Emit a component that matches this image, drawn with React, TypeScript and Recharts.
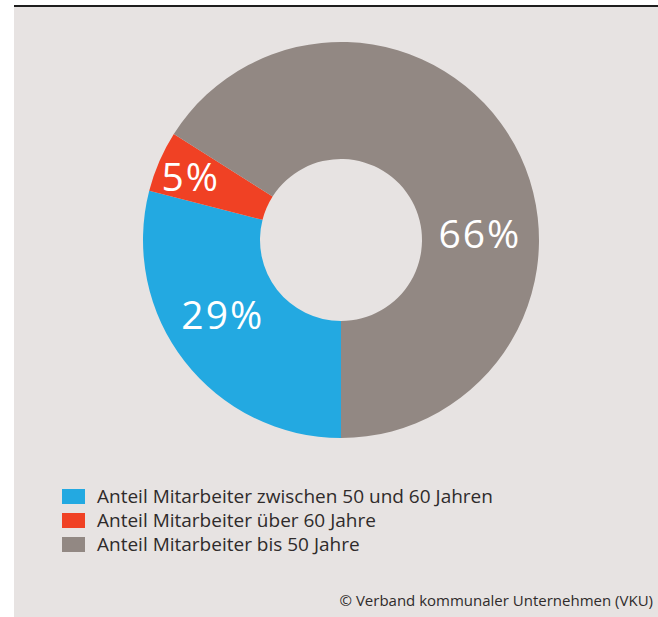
import { Legend, Pie, PieChart } from "recharts"

/******************************************************************************
                              Data
******************************************************************************/

const CATEGORIES = [
  "Anteil Mitarbeiter zwischen 50 und 60 Jahren",
  "Anteil Mitarbeiter über 60 Jahre",
  "Anteil Mitarbeiter bis 50 Jahre",
]
const SHARES = [29, 5, 66]
const COLORS = ["#23a9e1", "#f04124", "#928883"]

// label placement per slice: angle (deg, ccw from 3 o'clock) and radius
const LABEL_ANGLE = [212.4, 157.2, 2.5]
const LABEL_RADIUS = [140, 163, 139]

const SOURCE = "© Verband kommunaler Unternehmen (VKU)"

const FONT = "'Open Sans', 'Noto Sans', sans-serif"
const BG = "#e7e3e2"

/******************************************************************************
                              Components
******************************************************************************/

const RAD = Math.PI / 180

function renderLabel(props: any) {
  const { cx, cy, index, value } = props
  const a = LABEL_ANGLE[index] * RAD
  const r = LABEL_RADIUS[index]
  const x = cx + r * Math.cos(a)
  const y = cy - r * Math.sin(a)
  return (
    <text
      x={x}
      y={y + 14}
      fill="#ffffff"
      fontSize={39}
      fontFamily={FONT}
      letterSpacing={2}
      textAnchor="middle"
    >
      {`${value}%`}
    </text>
  )
}

function LegendContent() {
  return (
    <div style={{ fontFamily: FONT, fontSize: 19, color: "#2f2b2b" }}>
      {CATEGORIES.map((c, i) => (
        <div
          key={c}
          style={{ display: "flex", alignItems: "center", height: 24 }}
        >
          <span
            style={{
              display: "inline-block",
              width: 23,
              height: 15,
              background: COLORS[i],
              marginRight: 12,
            }}
          />
          {c}
        </div>
      ))}
    </div>
  )
}

export default function App() {
  const data = CATEGORIES.map((name, i) => ({
    name,
    value: SHARES[i],
    fill: COLORS[i],
  }))

  return (
    <div
      style={{
        position: "absolute",
        left: 0,
        top: 0,
        width: 658,
        height: 617,
        background: "#ffffff",
      }}
    >
      <div
        style={{
          position: "absolute",
          left: 14,
          top: 5,
          width: 644,
          height: 612,
          background: BG,
          borderTop: "2px solid #1e1e1e",
        }}
      >
        <PieChart width={644} height={560}>
          <Pie
            data={data}
            dataKey="value"
            nameKey="name"
            cx={322}
            cy={228}
            innerRadius={81}
            outerRadius={198}
            startAngle={270}
            endAngle={-90}
            stroke="none"
            label={renderLabel}
            labelLine={false}
            isAnimationActive={false}
          />
          <Legend
            content={<LegendContent />}
            wrapperStyle={{ left: 48, top: 477, width: 580 }}
          />
        </PieChart>
        <div
          style={{
            position: "absolute",
            right: 5,
            top: 583,
            fontFamily: FONT,
            fontSize: 15,
            color: "#2f2b2b",
          }}
        >
          {SOURCE}
        </div>
      </div>
    </div>
  )
}
